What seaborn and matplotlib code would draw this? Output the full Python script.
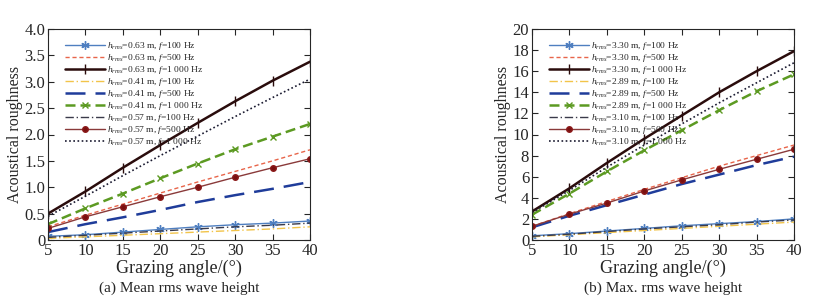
import seaborn as sns
import matplotlib.pyplot as plt
import numpy as np

sns.set_style("ticks")
plt.rcParams["font.family"] = ["Liberation Serif", "DejaVu Serif"]
plt.rcParams["mathtext.fontset"] = "custom"
plt.rcParams["mathtext.rm"] = "Liberation Serif"
plt.rcParams["mathtext.it"] = "Liberation Serif:italic"

angles = [5, 10, 15, 20, 25, 30, 35, 40]

# (a) mean rms wave height
a_063_100 = [0.07, 0.10, 0.15, 0.20, 0.25, 0.29, 0.32, 0.36]
a_063_500 = [0.25, 0.47, 0.68, 0.89, 1.10, 1.30, 1.50, 1.71]
a_063_1000 = [0.50, 0.92, 1.37, 1.80, 2.22, 2.63, 3.02, 3.38]
a_041_100 = [0.03, 0.06, 0.09, 0.12, 0.15, 0.18, 0.21, 0.25]
a_041_500 = [0.15, 0.30, 0.43, 0.57, 0.72, 0.85, 0.97, 1.10]
a_041_1000 = [0.30, 0.60, 0.88, 1.17, 1.45, 1.72, 1.96, 2.20]
a_057_100 = [0.05, 0.09, 0.13, 0.17, 0.21, 0.25, 0.28, 0.32]
a_057_500 = [0.22, 0.44, 0.63, 0.82, 1.00, 1.19, 1.37, 1.54]
a_057_1000 = [0.45, 0.83, 1.22, 1.60, 1.97, 2.34, 2.70, 3.05]

# (b) max rms wave height
b_330_100 = [0.40, 0.60, 0.85, 1.10, 1.35, 1.55, 1.75, 2.00]
b_330_500 = [1.30, 2.50, 3.65, 4.80, 5.90, 7.00, 8.00, 9.00]
b_330_1000 = [2.70, 4.90, 7.30, 9.60, 11.80, 14.00, 16.00, 17.90]
b_289_100 = [0.30, 0.50, 0.70, 0.90, 1.10, 1.30, 1.50, 1.70]
b_289_500 = [1.20, 2.30, 3.30, 4.30, 5.30, 6.20, 7.10, 7.90]
b_289_1000 = [2.40, 4.40, 6.50, 8.50, 10.40, 12.30, 14.10, 15.70]
b_310_100 = [0.35, 0.55, 0.80, 1.05, 1.25, 1.45, 1.70, 1.90]
b_310_500 = [1.30, 2.45, 3.50, 4.65, 5.70, 6.70, 7.65, 8.60]
b_310_1000 = [2.60, 4.70, 6.90, 9.00, 11.00, 13.00, 14.90, 16.80]

a_heights = ["0.63", "0.63", "0.63", "0.41", "0.41", "0.41", "0.57", "0.57", "0.57"]
b_heights = ["3.30", "3.30", "3.30", "2.89", "2.89", "2.89", "3.10", "3.10", "3.10"]
freqs = ["100", "500", "1 000"] * 3

a_series = [a_063_100, a_063_500, a_063_1000, a_041_100, a_041_500,
            a_041_1000, a_057_100, a_057_500, a_057_1000]
b_series = [b_330_100, b_330_500, b_330_1000, b_289_100, b_289_500,
            b_289_1000, b_310_100, b_310_500, b_310_1000]

styles = [
    dict(color="#4f7fc0", ls="-", lw=1.0, marker=(6, 2, 0), ms=6),
    dict(color="#e8654a", ls=(0, (3, 2)), lw=1.0, marker=None, ms=0),
    dict(color="#2a0c0c", ls="-", lw=1.8, marker="|", ms=7),
    dict(color="#f2c44a", ls=(0, (6, 2, 1, 2)), lw=1.0, marker=None, ms=0),
    dict(color="#1f3c9a", ls=(0, (8, 4)), lw=1.8, marker=None, ms=0),
    dict(color="#5c9a22", ls=(0, (4, 2)), lw=1.8, marker="x", ms=5),
    dict(color="#3a3a4a", ls=(0, (6, 2, 1, 2)), lw=1.0, marker=None, ms=0),
    dict(color="#8a3a3a", ls="-", lw=1.0, marker="o", ms=4),
    dict(color="#1a1a30", ls=(0, (1, 1.5)), lw=1.2, marker=None, ms=0),
]

fig = plt.figure(figsize=(8.22, 3.06), dpi=100)
ax_a = fig.add_axes([48 / 822, 66 / 306, 262 / 822, 211 / 306])
ax_b = fig.add_axes([532 / 822, 66 / 306, 262 / 822, 211 / 306])


def draw(ax, series, heights, ymax, ystep, yfmt, caption):
    for vals, h, f, st in zip(series, heights, freqs, styles):
        label = "$h_{rms}$=" + h + " m, $f$=" + f + " Hz"
        sns.lineplot(x=angles, y=vals, ax=ax, color=st["color"], linestyle=st["ls"],
                     linewidth=st["lw"], marker=st["marker"], markersize=st["ms"],
                     markeredgecolor="#8b1a1a" if st["marker"] == "o" else st["color"],
                     markerfacecolor="#7a1010" if st["marker"] == "o" else st["color"],
                     markeredgewidth=1.0, label=label)
    ax.set_xlim(5, 40)
    ax.set_ylim(0, ymax)
    ax.set_xticks(angles)
    yt = np.arange(0, ymax + ystep / 2, ystep)
    ax.set_yticks(yt)
    ax.set_yticklabels(["0"] + [yfmt.format(v) for v in yt[1:]])
    ax.tick_params(direction="in", top=True, right=True, labelsize=12,
                   length=4, width=0.8, pad=2)
    for s in ax.spines.values():
        s.set_linewidth(0.8)
    ax.set_xlabel("Grazing angle/(\u00b0)", fontsize=13, labelpad=1)
    ax.set_ylabel("Acoustical roughness", fontsize=11.5, labelpad=1)
    ax.legend(loc="upper left", frameon=False, fontsize=6.8, labelspacing=0.0,
              handlelength=4.2, handletextpad=0.2, borderaxespad=0.3,
              bbox_to_anchor=(0.04, 0.98))
    pos = ax.get_position()
    fig.text(pos.x0 + pos.width / 2, 18 / 306, caption, ha="center", va="center",
             fontsize=11)


draw(ax_a, a_series, a_heights, 4.0, 0.5, "{:.1f}", "(a) Mean rms wave height")
draw(ax_b, b_series, b_heights, 20, 2, "{:.0f}", "(b) Max. rms wave height")

fig.savefig("out.png", dpi=100)
